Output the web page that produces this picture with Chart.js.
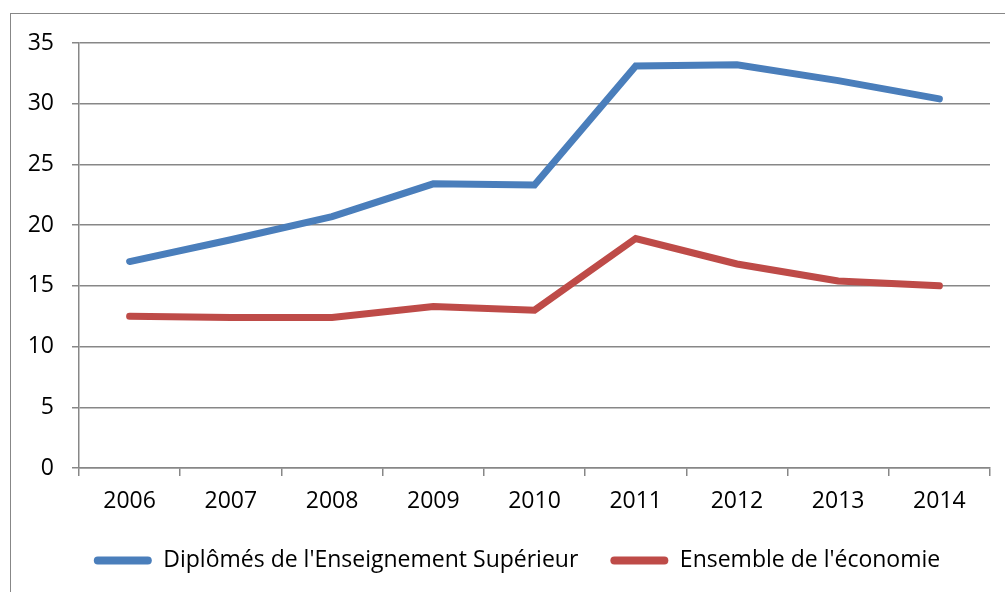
<!DOCTYPE html>
<html>
<head>
<meta charset="utf-8">
<script src="https://cdn.jsdelivr.net/npm/chart.js@4.4.1/dist/chart.umd.min.js"></script>
<style>
  html, body { margin: 0; padding: 0; background: #fff; overflow: hidden; }
  #frame { position: absolute; left: 10px; top: 13px; width: 1100px; height: 700px; border: 1.5px solid #878787; }
  #wrap { position: absolute; left: 0; top: 0; width: 1005px; height: 592px; }
</style>
</head>
<body>
<div id="frame"></div>
<div id="wrap"><canvas id="lineChart"></canvas></div>
<script>
const years = ['2006', '2007', '2008', '2009', '2010', '2011', '2012', '2013', '2014'];
const superieur = [17.0, 18.8, 20.7, 23.4, 23.3, 33.1, 33.2, 31.9, 30.4];
const ensemble = [12.5, 12.4, 12.4, 13.3, 13.0, 18.9, 16.8, 15.4, 15.0];
const seriesNames = ["Diplômés de l'Enseignement Supérieur", "Ensemble de l'économie"];

const font = { family: "'Open Sans', sans-serif", size: 23 };

// nudge the legend to where the original puts it
const legendShift = {
    id: 'legendShift',
    afterLayout: function (chart) {
        if (chart.legend) {
            chart.legend.left += 22;
            chart.legend.right += 22;
            chart.legend.top -= 9;
            chart.legend.bottom -= 9;
        }
    }
};

const ctx = document.getElementById('lineChart').getContext('2d');
new Chart(ctx, {
    type: 'line',
    data: {
        labels: years,
        datasets: [{
            label: seriesNames[0],
            data: superieur,
            borderColor: '#4a7ebb',
            backgroundColor: '#4a7ebb',
            borderWidth: 7,
            borderCapStyle: 'round',
            pointRadius: 0,
            tension: 0
        }, {
            label: seriesNames[1],
            data: ensemble,
            borderColor: '#be4b48',
            backgroundColor: '#be4b48',
            borderWidth: 7,
            borderCapStyle: 'round',
            pointRadius: 0,
            tension: 0
        }]
    },
    options: {
        responsive: true,
        maintainAspectRatio: false,
        animation: false,
        layout: { padding: { top: 43, right: 15, left: 0, bottom: 1 } },
        plugins: {
            legend: {
                position: 'bottom',
                labels: {
                    color: '#000',
                    font: font,
                    boxWidth: 58,
                    boxHeight: 8,
                    useBorderRadius: true,
                    borderRadius: 4,
                    padding: 32,
                    generateLabels: function (chart) {
                        const items = Chart.defaults.plugins.legend.labels.generateLabels(chart);
                        items.forEach(function (item) { item.lineWidth = 0; });
                        return items;
                    }
                }
            },
            tooltip: { enabled: false }
        },
        scales: {
            x: {
                offset: true,
                grid: {
                    offset: true,
                    drawOnChartArea: false,
                    drawTicks: true,
                    tickLength: 8,
                    color: '#878787',
                    lineWidth: 1.5
                },
                border: { color: '#878787', width: 1.5 },
                ticks: { color: '#000', font: font, padding: 12, maxRotation: 0 },
                afterFit: function (scale) { scale.height = 58; }
            },
            y: {
                min: 0,
                max: 35,
                ticks: { stepSize: 5, color: '#000', font: font, padding: 18 },
                grid: { color: '#878787', lineWidth: 1.5, tickLength: 7 },
                border: { color: '#878787', width: 1.5 },
                afterFit: function (scale) { scale.width = 79; }
            }
        }
    },
    plugins: [legendShift]
});
</script>
</body>
</html>
